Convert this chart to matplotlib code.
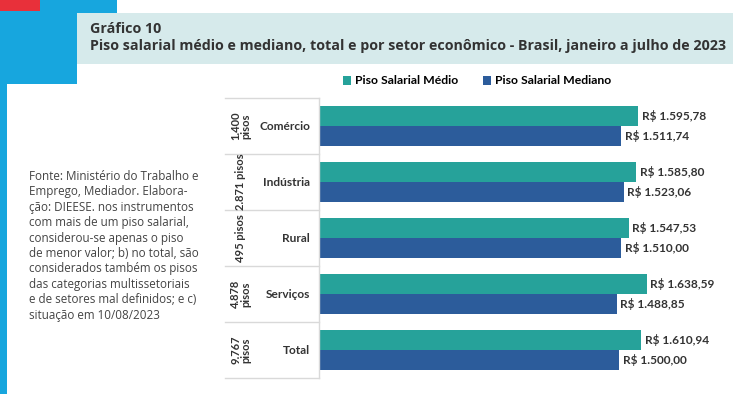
import matplotlib
matplotlib.use("Agg")
import matplotlib.pyplot as plt
from matplotlib import transforms
from matplotlib.patches import Rectangle

plt.rcParams['font.family'] = ['Lato', 'DejaVu Sans']

setores = ['Comércio', 'Indústria', 'Rural', 'Serviços', 'Total']
n_pisos = ['1.400\npisos', '2.871 pisos', '495 pisos', '4.878\npisos', '9.767\npisos']
medio = [1595.78, 1585.80, 1547.53, 1638.59, 1610.94]
mediano = [1511.74, 1523.06, 1510.00, 1488.85, 1500.00]

cor_medio = '#26a29a'
cor_mediano = '#2c5c9b'
cor_texto = '#333333'

W, H = 751, 394
fig = plt.figure(figsize=(W / 100, H / 100), dpi=100)


def px_rect(x0, y0, x1, y1, cor):
    # retângulo em pixels, y contado a partir do topo
    fig.patches.append(Rectangle((x0 / W, 1 - y1 / H), (x1 - x0) / W, (y1 - y0) / H,
                                 transform=fig.transFigure, color=cor, lw=0, zorder=0))


# moldura azul/vermelha à esquerda
px_rect(0, 0, 117, 13, '#17a6de')
px_rect(0, 0, 77, 84, '#17a6de')
px_rect(0, 0, 7, 394, '#17a6de')
px_rect(0, 0, 40, 11, '#e8303a')
# caixa do título
px_rect(77, 13, 733, 64, '#d6eaeb')

fig.text(90 / W, 1 - 29 / H, 'Gráfico 10', fontsize=10.3, fontweight='bold',
         color=cor_texto, va='center', family=['Open Sans', 'DejaVu Sans'])
fig.text(90 / W, 1 - 46 / H,
         'Piso salarial médio e mediano, total e por setor econômico - Brasil, janeiro a julho de 2023',
         fontsize=10.3, fontweight='bold', color=cor_texto, va='center',
         family=['Open Sans', 'DejaVu Sans'])

fonte = ('Fonte: Ministério do Trabalho e\nEmprego, Mediador. Elabora-\nção: DIEESE. nos instrumentos\n'
         'com mais de um piso salarial,\nconsiderou-se apenas o piso\nde menor valor; b) no total, são\n'
         'considerados também os pisos\ndas categorias multissetoriais\ne de setores mal definidos; e c)\n'
         'situação em 10/08/2023')
fig.text(29 / W, 1 - 170 / H, fonte, fontsize=8.4, color='#444444', va='top',
         linespacing=1.24, family=['Open Sans', 'DejaVu Sans'])

ax = fig.add_axes([319 / W, 16 / H, 400 / W, 280 / H])
y = list(range(len(setores)))
h = 0.366
b1 = ax.barh([v - h / 2 for v in y], medio, height=h, color=cor_medio, label='Piso Salarial Médio')
b2 = ax.barh([v + h / 2 for v in y], mediano, height=h, color=cor_mediano, label='Piso Salarial Mediano')
ax.set_xlim(0, 2000)
ax.set_ylim(4.5, -0.5)
ax.axis('off')


def moeda(v):
    s = f'{v:,.2f}'.replace(',', 'X').replace('.', ',').replace('X', '.')
    return 'R$ ' + s


for i in y:
    ax.text(medio[i] + 18, i - h / 2, moeda(medio[i]), va='center', ha='left',
            fontsize=8.6, fontweight='bold', color=cor_texto)
    ax.text(mediano[i] + 18, i + h / 2, moeda(mediano[i]), va='center', ha='left',
            fontsize=8.6, fontweight='bold', color=cor_texto)

# "tabela" de categorias à esquerda
tr = transforms.blended_transform_factory(ax.transAxes, ax.transData)
cinza = '#d9d9d9'
for yy in [k - 0.5 for k in range(len(setores) + 1)]:
    ax.plot([-0.235, 0], [yy, yy], color=cinza, lw=1, transform=tr, clip_on=False)
ax.plot([0, 0], [-0.5, 4.5], color=cinza, lw=1, transform=tr, clip_on=False)
for i in y:
    ax.text(-0.0225, i, setores[i], transform=tr, ha='right', va='center',
            fontsize=8.6, fontweight='bold', color=cor_texto)
    ax.text(-0.195, i, n_pisos[i], transform=tr, ha='center', va='center', rotation=90,
            fontsize=8, fontweight='bold', color=cor_texto, linespacing=0.95)

fig.legend(handles=[b1, b2], loc='center', bbox_to_anchor=(477 / W, 1 - 81 / H), ncol=2,
           frameon=False, prop={'weight': 'bold', 'size': 8.8},
           handlelength=0.7, handleheight=0.7, handletextpad=0.3, columnspacing=2.0)

fig.savefig('out.png', dpi=100)
